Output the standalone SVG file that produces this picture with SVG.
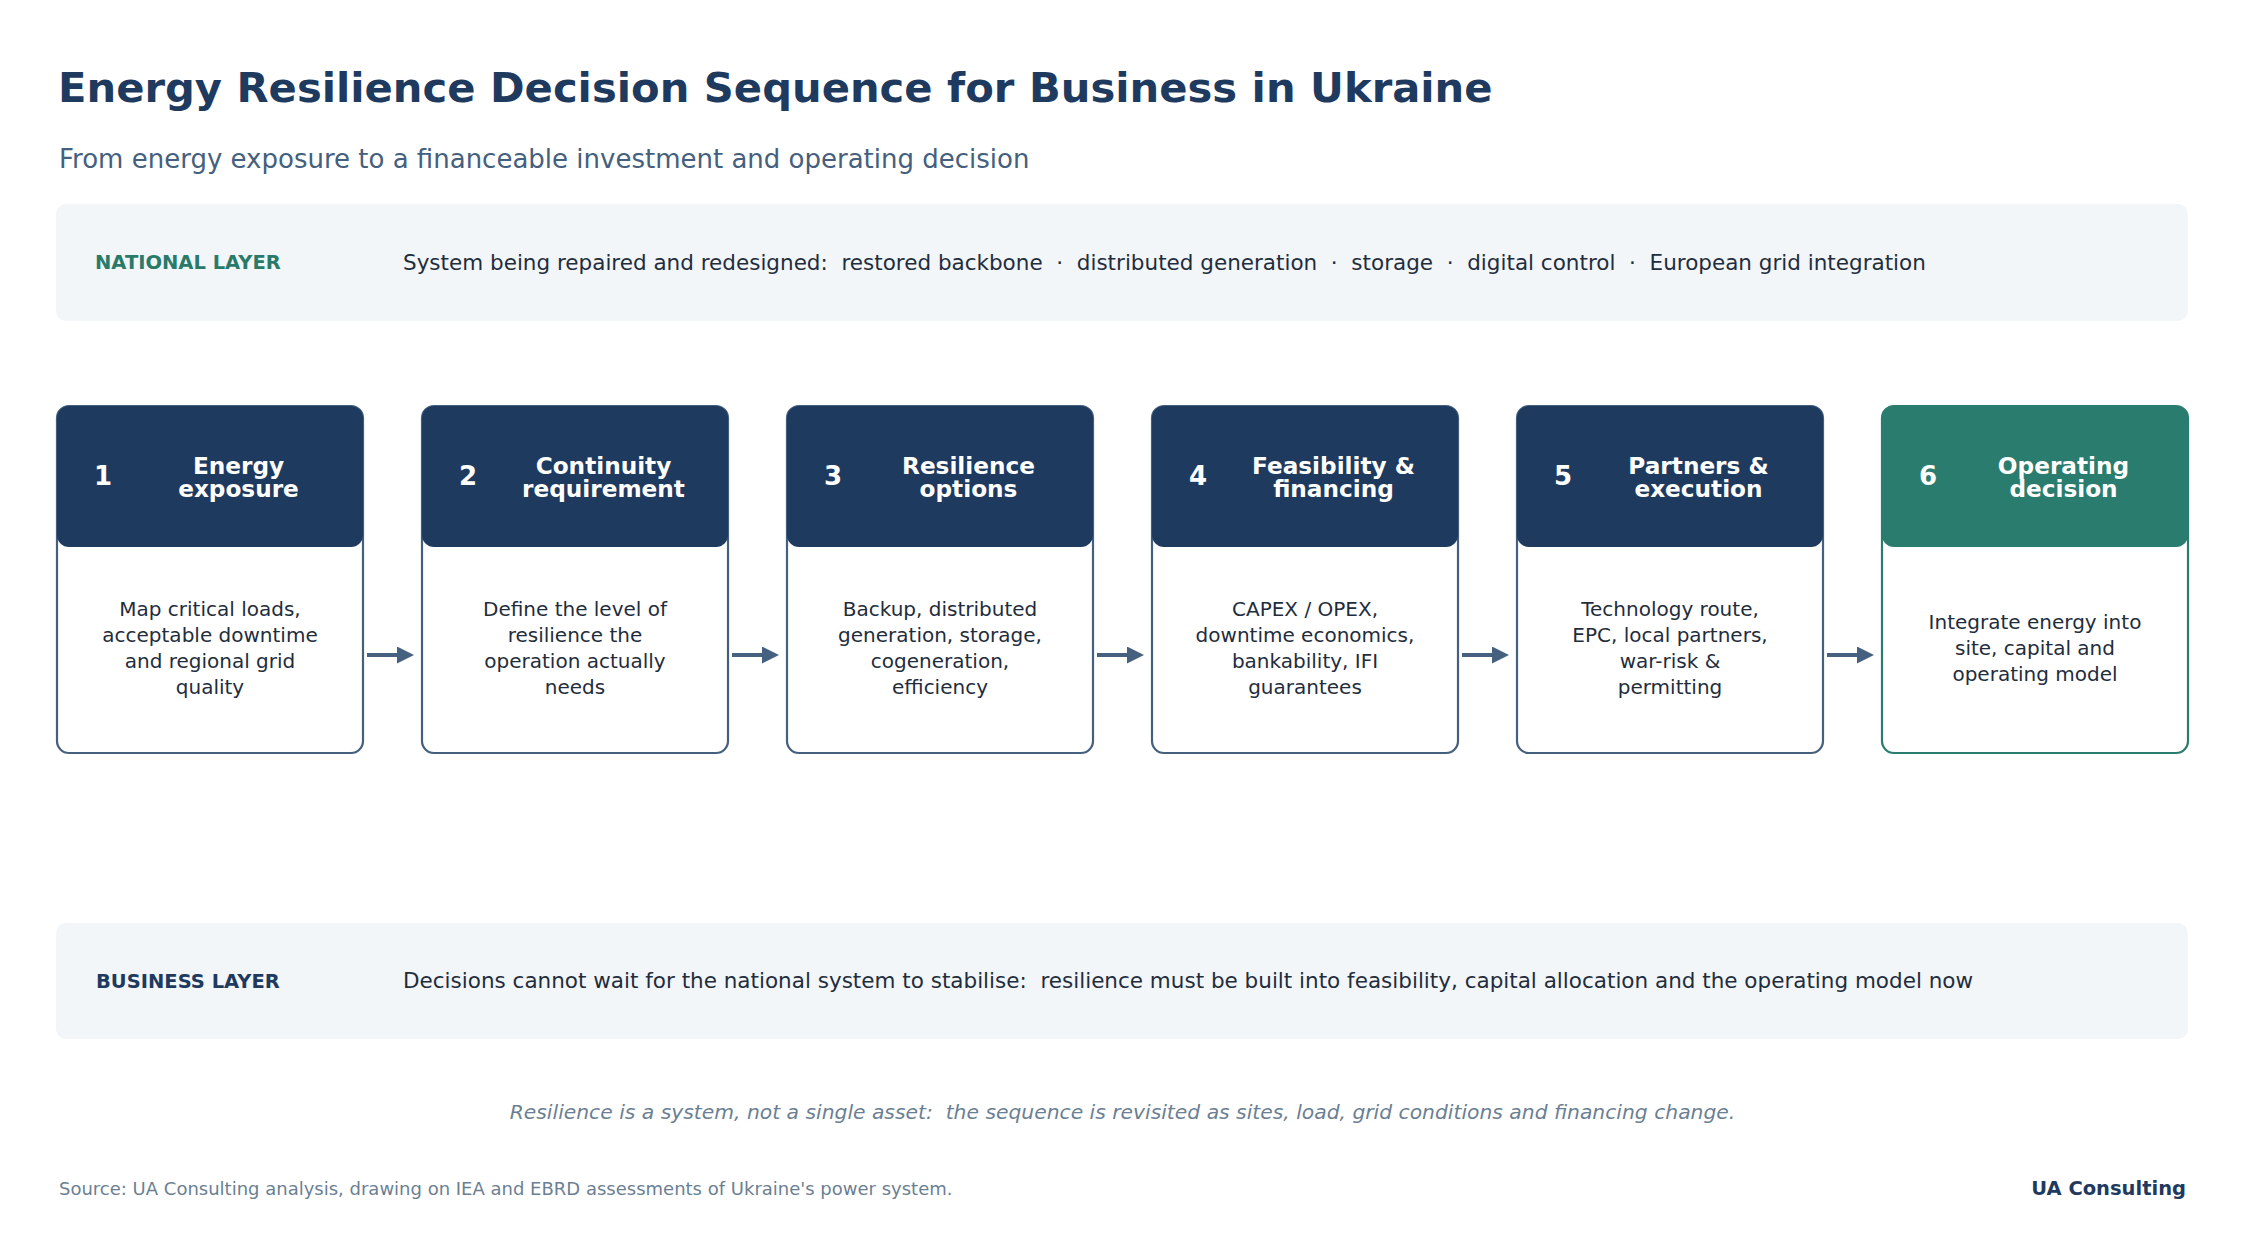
<svg xmlns="http://www.w3.org/2000/svg" width="2245" height="1235" viewBox="0 0 2245 1235">
<defs>
<style>
text{font-family:"DejaVu Sans","Noto Sans",sans-serif;}
.title{font-size:41.7px;font-weight:bold;fill:#1f3a5f;}
.sub{font-size:26px;fill:#44607e;}
.band{fill:#f2f6f9;}
.lbl{font-size:19.5px;font-weight:bold;}
.bandtxt{font-size:21.5px;fill:#1f2d3d;white-space:pre;}
.card{fill:#ffffff;stroke:#44607e;stroke-width:2.2;}
.card.g{stroke:#2a7d6e;}
.hdr{fill:#1f3a5f;}
.hdr.g{fill:#2a7d6e;}
.num{font-size:26px;font-weight:bold;fill:#ffffff;}
.ht{font-size:23.2px;font-weight:bold;fill:#ffffff;text-anchor:middle;}
.body{font-size:20px;fill:#1f2d3d;text-anchor:middle;}
.arr{stroke:#46617f;stroke-width:4;fill:none;}
.note{font-size:20.3px;font-style:italic;fill:#6b7f93;text-anchor:middle;white-space:pre;}
.src{font-size:18px;fill:#6b7f93;}
.brand{font-size:19.5px;font-weight:bold;fill:#1f3a5f;text-anchor:end;}
</style>
<marker id="ah" viewBox="0 0 17 17" refX="0" refY="8.5" markerWidth="17" markerHeight="17" markerUnits="userSpaceOnUse" orient="auto">
<path d="M0,0 L17,8.5 L0,17 Z" fill="#46617f"/>
</marker>
</defs>
<rect width="2245" height="1235" fill="#ffffff"/>
<text class="title" x="58" y="101.5">Energy Resilience Decision Sequence for Business in Ukraine</text>
<text class="sub" x="59" y="167.5">From energy exposure to a financeable investment and operating decision</text>

<g id="national-layer">
<rect class="band" x="56" y="204" width="2132" height="117" rx="10"/>
<text class="lbl" x="95" y="269" fill="#2a7a6a">NATIONAL LAYER</text>
<text class="bandtxt" x="403" y="270">System being repaired and redesigned:  restored backbone  ·  distributed generation  ·  storage  ·  digital control  ·  European grid integration</text>
</g>

<g id="step1">
<rect class="card" x="57" y="406" width="306" height="347" rx="12"/>
<rect class="hdr" x="57" y="406" width="306" height="141" rx="12"/>
<text class="num" x="94" y="485">1</text>
<text class="ht" x="238.5" y="473.5">Energy</text>
<text class="ht" x="238.5" y="496.5">exposure</text>
<text class="body" x="210" y="615.5">Map critical loads,</text>
<text class="body" x="210" y="641.5">acceptable downtime</text>
<text class="body" x="210" y="667.5">and regional grid</text>
<text class="body" x="210" y="693.5">quality</text>
</g>

<g id="step2">
<rect class="card" x="422" y="406" width="306" height="347" rx="12"/>
<rect class="hdr" x="422" y="406" width="306" height="141" rx="12"/>
<text class="num" x="459" y="485">2</text>
<text class="ht" x="603.5" y="473.5">Continuity</text>
<text class="ht" x="603.5" y="496.5">requirement</text>
<text class="body" x="575" y="615.5">Define the level of</text>
<text class="body" x="575" y="641.5">resilience the</text>
<text class="body" x="575" y="667.5">operation actually</text>
<text class="body" x="575" y="693.5">needs</text>
</g>

<g id="step3">
<rect class="card" x="787" y="406" width="306" height="347" rx="12"/>
<rect class="hdr" x="787" y="406" width="306" height="141" rx="12"/>
<text class="num" x="824" y="485">3</text>
<text class="ht" x="968.5" y="473.5">Resilience</text>
<text class="ht" x="968.5" y="496.5">options</text>
<text class="body" x="940" y="615.5">Backup, distributed</text>
<text class="body" x="940" y="641.5">generation, storage,</text>
<text class="body" x="940" y="667.5">cogeneration,</text>
<text class="body" x="940" y="693.5">efficiency</text>
</g>

<g id="step4">
<rect class="card" x="1152" y="406" width="306" height="347" rx="12"/>
<rect class="hdr" x="1152" y="406" width="306" height="141" rx="12"/>
<text class="num" x="1189" y="485">4</text>
<text class="ht" x="1333.5" y="473.5">Feasibility &amp;</text>
<text class="ht" x="1333.5" y="496.5">financing</text>
<text class="body" x="1305" y="615.5">CAPEX / OPEX,</text>
<text class="body" x="1305" y="641.5">downtime economics,</text>
<text class="body" x="1305" y="667.5">bankability, IFI</text>
<text class="body" x="1305" y="693.5">guarantees</text>
</g>

<g id="step5">
<rect class="card" x="1517" y="406" width="306" height="347" rx="12"/>
<rect class="hdr" x="1517" y="406" width="306" height="141" rx="12"/>
<text class="num" x="1554" y="485">5</text>
<text class="ht" x="1698.5" y="473.5">Partners &amp;</text>
<text class="ht" x="1698.5" y="496.5">execution</text>
<text class="body" x="1670" y="615.5">Technology route,</text>
<text class="body" x="1670" y="641.5">EPC, local partners,</text>
<text class="body" x="1670" y="667.5">war-risk &amp;</text>
<text class="body" x="1670" y="693.5">permitting</text>
</g>

<g id="step6">
<rect class="card g" x="1882" y="406" width="306" height="347" rx="12"/>
<rect class="hdr g" x="1882" y="406" width="306" height="141" rx="12"/>
<text class="num" x="1919" y="485">6</text>
<text class="ht" x="2063.5" y="473.5">Operating</text>
<text class="ht" x="2063.5" y="496.5">decision</text>
<text class="body" x="2035" y="628.5">Integrate energy into</text>
<text class="body" x="2035" y="654.5">site, capital and</text>
<text class="body" x="2035" y="680.5">operating model</text>
</g>

<g id="connectors">
<line class="arr" x1="367" y1="655" x2="397" y2="655" marker-end="url(#ah)"/>
<line class="arr" x1="732" y1="655" x2="762" y2="655" marker-end="url(#ah)"/>
<line class="arr" x1="1097" y1="655" x2="1127" y2="655" marker-end="url(#ah)"/>
<line class="arr" x1="1462" y1="655" x2="1492" y2="655" marker-end="url(#ah)"/>
<line class="arr" x1="1827" y1="655" x2="1857" y2="655" marker-end="url(#ah)"/>
</g>

<g id="business-layer">
<rect class="band" x="56" y="923" width="2132" height="116" rx="10"/>
<text class="lbl" x="96" y="988" fill="#1f3a5f">BUSINESS LAYER</text>
<text class="bandtxt" x="403" y="988">Decisions cannot wait for the national system to stabilise:  resilience must be built into feasibility, capital allocation and the operating model now</text>
</g>

<text class="note" x="1122.5" y="1118.5">Resilience is a system, not a single asset:  the sequence is revisited as sites, load, grid conditions and financing change.</text>
<text class="src" x="59" y="1194.5">Source: UA Consulting analysis, drawing on IEA and EBRD assessments of Ukraine's power system.</text>
<text class="brand" x="2186" y="1194.5">UA Consulting</text>
</svg>
